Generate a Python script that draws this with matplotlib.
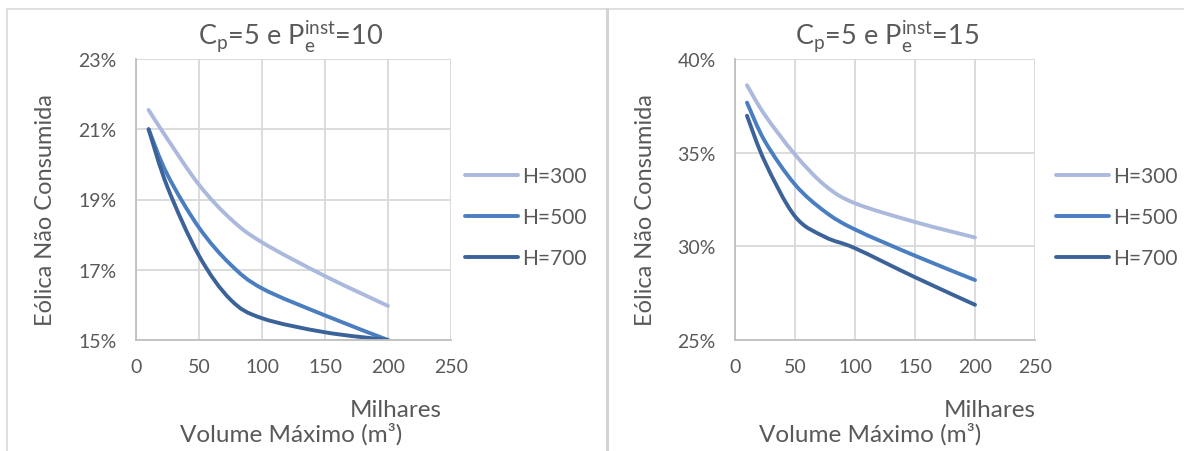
import matplotlib
matplotlib.use('Agg')
import matplotlib.pyplot as plt
from matplotlib.ticker import FuncFormatter
from matplotlib.lines import Line2D
from matplotlib.path import Path
from matplotlib.patches import PathPatch

plt.rcParams['font.family'] = ['Lato', 'DejaVu Sans']
plt.rcParams['mathtext.fontset'] = 'custom'
plt.rcParams['mathtext.rm'] = 'Lato'

# volume (milhares de m3)
vol = [10, 25, 50, 75, 100, 150, 200]

# Pe_inst = 10 (% eolica nao consumida)
h300_10 = [21.55, 20.72, 19.42, 18.45, 17.78, 16.82, 15.97]
h500_10 = [21.0, 19.7, 18.2, 17.15, 16.47, 15.7, 15.0]
h700_10 = [21.0, 19.35, 17.4, 16.15, 15.62, 15.22, 15.0]

# Pe_inst = 15
h300_15 = [38.6, 37.0, 34.9, 33.25, 32.3, 31.3, 30.47]
h500_15 = [37.67, 35.6, 33.3, 31.85, 30.9, 29.5, 28.2]
h700_15 = [36.97, 34.5, 31.6, 30.5, 29.9, 28.35, 26.88]

labels = ['H=300', 'H=500', 'H=700']
colors = ['#aab9dc', '#4a7ec1', '#3b6399']
txt = '#595959'

W, H = 1184, 452
fig = plt.figure(figsize=(W / 100, H / 100), dpi=100)

# chart borders
fig.add_artist(plt.Rectangle((7 / W, -0.05), 600 / W, 1.05 - 10 / H, transform=fig.transFigure,
                             fill=False, ec='#d9d9d9', lw=1.2))
fig.add_artist(Line2D([607 / W, 1.0], [1 - 10 / H] * 2, transform=fig.transFigure, color='#d9d9d9', lw=1.2))
fig.add_artist(Line2D([607 / W] * 2, [0, 1 - 10 / H], transform=fig.transFigure, color='#d4d4d4', lw=2.2))


def smooth(x, y):
    # excel-like smoothed line: catmull-rom as cubic bezier
    verts = [(x[0], y[0])]
    codes = [Path.MOVETO]
    n = len(x)
    for i in range(n - 1):
        i0, i3 = max(i - 1, 0), min(i + 2, n - 1)
        c1 = (x[i] + (x[i + 1] - x[i0]) / 6, y[i] + (y[i + 1] - y[i0]) / 6)
        c2 = (x[i + 1] - (x[i3] - x[i]) / 6, y[i + 1] - (y[i3] - y[i]) / 6)
        verts += [c1, c2, (x[i + 1], y[i + 1])]
        codes += [Path.CURVE4] * 3
    return Path(verts, codes)


def panel(left, width, x, series, yticks, title, ylab_x, title_x, leg_x):
    ax = fig.add_axes([left / W, 1 - 341 / H, width / W, 281 / H])
    handles = []
    for y, lab, c in zip(series, labels, colors):
        ax.add_patch(PathPatch(smooth(x, y), fill=False, ec=c, lw=2.8, capstyle='round'))
        handles.append(Line2D([], [], color=c, lw=2.8, solid_capstyle='round'))
    ax.set_xlim(0, 250)
    ax.set_ylim(yticks[0], yticks[-1])
    ax.set_xticks(range(0, 251, 50))
    ax.set_yticks(yticks)
    ax.yaxis.set_major_formatter(FuncFormatter(lambda v, p: f'{v:.0f}%'))
    ax.grid(True, color='#d9d9d9', lw=1.3)
    ax.set_axisbelow(True)
    for s in ['top', 'right']:
        ax.spines[s].set_visible(False)
    for s in ['left', 'bottom']:
        ax.spines[s].set_color('#bfbfbf')
        ax.spines[s].set_linewidth(1.3)
    ax.tick_params(length=0, labelsize=14, colors=txt)
    ax.tick_params(axis='y', pad=14)
    ax.tick_params(axis='x', pad=13)
    fig.text(title_x / W, 1 - 36 / H, title, ha='center', va='center', fontsize=19.5, color=txt)
    fig.text(ylab_x / W, 1 - 210 / H, 'Eólica Não Consumida', rotation=90, ha='center', va='center',
             fontsize=17, color=txt)
    ax.legend(handles, labels, loc='center left', bbox_to_anchor=(leg_x / W, 1 - 218 / H),
              bbox_transform=fig.transFigure, frameon=False, fontsize=15, handlelength=2.55,
              handletextpad=0.2, labelspacing=1.0, borderpad=0, borderaxespad=0, labelcolor=txt)
    return ax


panel(136, 315, vol, [h300_10, h500_10, h700_10], [15, 17, 19, 21, 23],
      r'C$_\mathregular{p}$=5 e P$_\mathregular{e}^\mathregular{inst}$=10', 46, 291, 465)
panel(735, 300, vol, [h300_15, h500_15, h700_15], [25, 30, 35, 40],
      r'C$_\mathregular{p}$=5 e P$_\mathregular{e}^\mathregular{inst}$=15', 645, 887, 1056)

for xm, xv in [(396, 291), (990, 870)]:
    fig.text(xm / W, 1 - 411 / H, 'Milhares', ha='center', va='center', fontsize=17.5, color=txt)
    fig.text(xv / W, 1 - 434 / H, 'Volume Máximo (m³)', ha='center', va='center', fontsize=17.5, color=txt)

fig.savefig('out.png', dpi=100)
